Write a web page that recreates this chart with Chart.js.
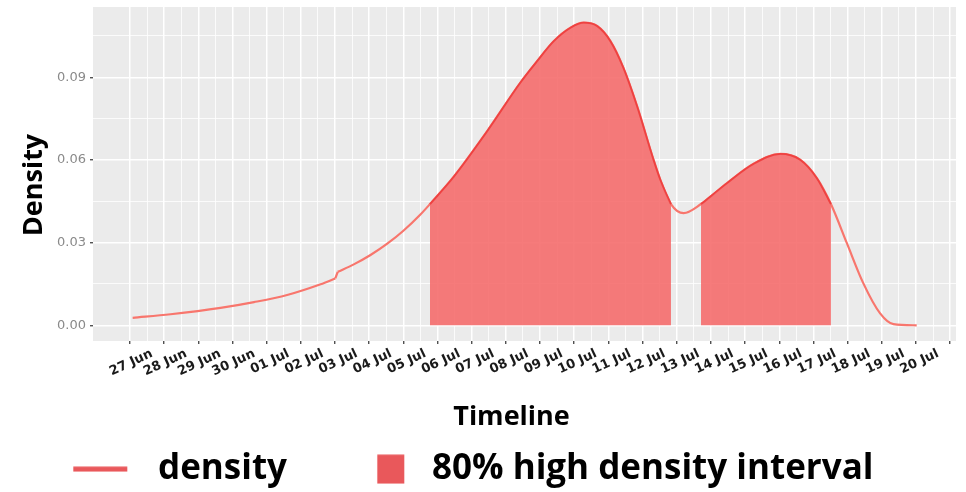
<!DOCTYPE html>
<html><head><meta charset="utf-8">
<script src="https://cdn.jsdelivr.net/npm/chart.js@4.4.0/dist/chart.umd.min.js"></script>
<style>html,body{margin:0;padding:0;background:#fff}canvas{display:block}</style>
</head><body>
<canvas id="c" width="966" height="492"></canvas>
<script>
// ---- data ----
const xTickLabels = ['27 Jun','28 Jun','29 Jun','30 Jun','01 Jul','02 Jul','03 Jul','04 Jul','05 Jul','06 Jul','07 Jul','08 Jul','09 Jul','10 Jul','11 Jul','12 Jul','13 Jul','14 Jul','15 Jul','16 Jul','17 Jul','18 Jul','19 Jul','20 Jul'];
const yTickValues = [0, 0.03, 0.06, 0.09];
// days after 27 Jun
const densityDays   = [0.08, 1.19, 2.65, 3.63, 4.60, 5.58, 6.01, 6.08, 6.55, 7.04, 7.53, 8.01, 8.50, 8.78, 9.48, 10.45, 11.42, 11.91, 12.40, 12.89, 13.28, 13.67, 14.06, 14.44, 14.84, 15.32, 15.52, 15.83, 16.20, 16.71, 17.47, 18.25, 19.03, 19.61, 20.10, 20.51, 20.98, 21.46, 21.95, 22.34, 23.02];
const densityValues = [0.0027, 0.0040, 0.0063, 0.0084, 0.0110, 0.0149, 0.0170, 0.0194, 0.0221, 0.0255, 0.0296, 0.0344, 0.0402, 0.0440, 0.0540, 0.0704, 0.0880, 0.0958, 0.1031, 0.1080, 0.1098, 0.1086, 0.1031, 0.0934, 0.0795, 0.0601, 0.0528, 0.0440, 0.0407, 0.0440, 0.0516, 0.0586, 0.0622, 0.0601, 0.0534, 0.0440, 0.0297, 0.0152, 0.0043, 0.0004, 0.0000];
const jumpAfterDay = 6.01;   // small step in the density estimate
const hdiStarts = [8.78, 16.71];
const hdiEnds   = [15.83, 20.51];
const legendLabels = ['density', '80% high density interval'];

// ---- layout helpers ----
const LEG_SIZE = 35, LEG_PAD = 10, HALF = LEG_SIZE / 2;
const mctx = document.createElement('canvas').getContext('2d');
mctx.font = 'bold ' + LEG_SIZE + 'px "Open Sans"';
const tw1 = mctx.measureText(legendLabels[0]).width;
const B = 432 - 158 - HALF - tw1 - LEG_PAD;   // legend box width
const x01 = 158 - HALF - B;                    // first legend item x
const L = x01 - LEG_PAD;                       // layout left padding
const x02 = 432 - HALF - B;                    // second legend item x
const PB = -4.6;                               // layout bottom padding
const XH = 492 - PB - (LEG_SIZE + LEG_PAD + 10) - 341;  // x axis box height

function makeLineImg() {
  const c = document.createElement('canvas');
  c.width = Math.round(B); c.height = 6;
  const g = c.getContext('2d');
  g.fillStyle = '#E9585B';
  g.fillRect(73 - x01, 0.5, 54, 5);
  return c;
}
function makeSquareImg() {
  const c = document.createElement('canvas');
  c.width = Math.round(B); c.height = 30;
  const g = c.getContext('2d');
  g.fillStyle = '#E9585B';
  g.fillRect(377 - x02, 0.5, 27, 29);
  return c;
}
const lineImg = makeLineImg(), squareImg = makeSquareImg();

const pts = densityDays.map((d, i) => ({x: d, y: densityValues[i]}));
const jIdx = densityDays.indexOf(jumpAfterDay);
const lineStyle = {borderColor: '#F8766D', borderWidth: 2.2, pointRadius: 0, fill: false, order: 1};

const hdiDatasets = hdiStarts.map((s, k) => ({
  label: legendLabels[1],
  data: pts.filter(p => p.x >= s - 1e-9 && p.x <= hdiEnds[k] + 1e-9),
  borderColor: 'rgba(236,58,58,0.85)',
  borderWidth: 1.8,
  backgroundColor: 'rgba(245,105,105,0.88)',
  fill: 'origin',
  pointRadius: 0,
  cubicInterpolationMode: 'monotone',
  order: 0
}));

const isMajorX = v => Math.abs(v - Math.round(v)) < 1e-9;
const isMajorY = v => Math.abs(v / 0.03 - Math.round(v / 0.03)) < 1e-6;

const panelBg = {
  id: 'panelBg',
  beforeDraw(chart) {
    const {ctx, chartArea: a} = chart;
    ctx.save();
    ctx.fillStyle = '#EBEBEB';
    ctx.fillRect(a.left, a.top, a.right - a.left, a.bottom - a.top);
    ctx.restore();
  }
};
// nudge axis titles to where the reference places them
const titleShift = {
  id: 'titleShift',
  afterLayout(chart) {
    [['x', -13, 0], ['y', 0, 11]].forEach(([id, dx, dy]) => {
      const s = chart.scales[id];
      if (s._shifted) return;
      const orig = s.drawTitle.bind(s);
      s.drawTitle = function () {
        const ctx = this.ctx;
        ctx.save(); ctx.translate(dx, dy); orig(); ctx.restore();
      };
      s._shifted = true;
    });
  }
};

new Chart(document.getElementById('c'), {
  type: 'line',
  data: {
    datasets: [
      ...hdiDatasets,
      Object.assign({label: legendLabels[0], data: pts.slice(0, jIdx + 1), cubicInterpolationMode: 'monotone'}, lineStyle),
      Object.assign({label: legendLabels[0], data: pts.slice(jIdx, jIdx + 2), tension: 0}, lineStyle),
      Object.assign({label: legendLabels[0], data: pts.slice(jIdx + 1), cubicInterpolationMode: 'monotone'}, lineStyle)
    ]
  },
  options: {
    responsive: false,
    animation: false,
    events: [],
    layout: {padding: {left: L, right: 10, top: 7, bottom: PB}},
    scales: {
      x: {
        type: 'linear',
        min: -1.08, max: 24.17,
        afterBuildTicks: s => {
          const t = [];
          for (let i = 0; i <= 48; i++) t.push({value: i / 2});
          s.ticks = t;
        },
        afterFit: s => { s.height = XH; s.paddingLeft = 0; s.paddingRight = 0; },
        ticks: {
          autoSkip: false,
          minRotation: 25, maxRotation: 25,
          labelOffset: 22,
          padding: 2,
          color: '#1a1a1a',
          font: {family: 'DejaVu Sans', size: 13, weight: 'bold'},
          callback: v => (isMajorX(v) && Math.round(v) < xTickLabels.length) ? xTickLabels[Math.round(v)] : ''
        },
        grid: {
          color: '#FFFFFF',
          lineWidth: c => isMajorX(c.tick.value) ? 1.5 : 0.8,
          tickColor: c => isMajorX(c.tick.value) ? '#333333' : 'rgba(0,0,0,0)',
          tickLength: 3,
          tickWidth: 1.2
        },
        border: {display: false},
        title: {
          display: true, text: 'Timeline', color: '#000',
          font: {family: 'Open Sans', size: 27, weight: 'bold', lineHeight: 1},
          padding: {top: 0, bottom: XH - 13.5 - 76.5}
        }
      },
      y: {
        min: -0.0057, max: 0.1155,
        afterBuildTicks: s => {
          const t = [];
          for (let i = 0; i <= 7; i++) t.push({value: Math.round(i * 15) / 1000});
          s.ticks = t;
        },
        afterFit: s => { s.width = 93 - L; s.paddingTop = 0; s.paddingBottom = 0; },
        ticks: {
          padding: 4,
          color: '#8a8a8a',
          font: {family: 'DejaVu Sans', size: 13},
          callback: v => yTickValues.some(t => Math.abs(t - v) < 1e-9) ? v.toFixed(2) : ''
        },
        grid: {
          color: '#FFFFFF',
          lineWidth: c => isMajorY(c.tick.value) ? 1.5 : 0.8,
          tickColor: c => isMajorY(c.tick.value) ? '#333333' : 'rgba(0,0,0,0)',
          tickLength: 3,
          tickWidth: 1.2
        },
        border: {display: false},
        title: {
          display: true, text: 'Density', color: '#000',
          font: {family: 'Open Sans', size: 27, weight: 'bold', lineHeight: 1},
          padding: {top: 20.7 - L, bottom: 0}
        }
      }
    },
    plugins: {
      tooltip: {enabled: false},
      legend: {
        display: true,
        position: 'bottom',
        align: 'start',
        labels: {
          usePointStyle: true,
          pointStyleWidth: B,
          padding: LEG_PAD,
          color: '#000',
          font: {family: 'Open Sans', size: LEG_SIZE, weight: 'bold'},
          generateLabels: () => [
            {text: legendLabels[0], pointStyle: lineImg, fillStyle: '#E9585B', strokeStyle: '#E9585B', lineWidth: 0, hidden: false, datasetIndex: 2},
            {text: legendLabels[1], pointStyle: squareImg, fillStyle: '#E9585B', strokeStyle: '#E9585B', lineWidth: 0, hidden: false, datasetIndex: 0}
          ]
        }
      }
    }
  },
  plugins: [panelBg, titleShift]
});
</script>
</body></html>
